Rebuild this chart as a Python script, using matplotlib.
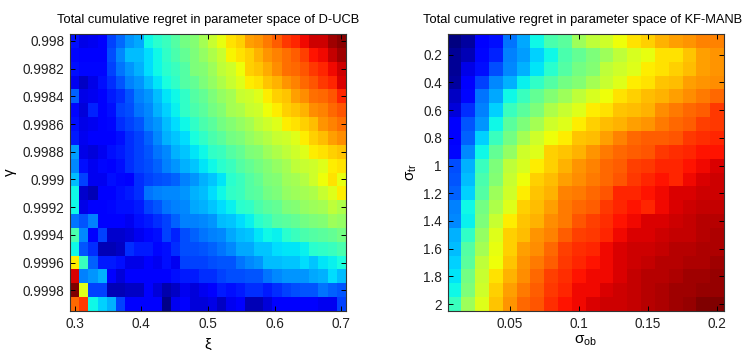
import numpy as np
import matplotlib
matplotlib.use("Agg")
import matplotlib.pyplot as plt

plt.rcParams['font.family'] = ['Liberation Sans', 'DejaVu Sans']
plt.rcParams['mathtext.fontset'] = 'custom'
plt.rcParams['mathtext.rm'] = 'Liberation Sans'
plt.rcParams['mathtext.it'] = 'Liberation Sans'

# D-UCB: rows = gamma, cols = xi (normalised regret)
xi = np.linspace(0.3, 0.7, 30)
gamma = np.linspace(0.998, 0.9999, 20)
regret_ducb = np.array([
    [0.14, 0.09, 0.10, 0.12, 0.19, 0.23, 0.27, 0.29, 0.37, 0.40, 0.42, 0.45, 0.49, 0.51, 0.55, 0.59, 0.63, 0.67, 0.69, 0.74, 0.75, 0.78, 0.81, 0.85, 0.87, 0.90, 0.93, 0.93, 0.97, 0.99],
    [0.13, 0.11, 0.11, 0.12, 0.20, 0.26, 0.31, 0.31, 0.34, 0.37, 0.41, 0.44, 0.47, 0.50, 0.53, 0.56, 0.59, 0.65, 0.67, 0.69, 0.72, 0.75, 0.77, 0.79, 0.81, 0.84, 0.89, 0.90, 0.94, 0.97],
    [0.14, 0.13, 0.13, 0.13, 0.19, 0.24, 0.27, 0.30, 0.34, 0.37, 0.40, 0.42, 0.45, 0.50, 0.51, 0.54, 0.58, 0.60, 0.64, 0.69, 0.70, 0.73, 0.76, 0.79, 0.80, 0.82, 0.85, 0.87, 0.90, 0.93],
    [0.10, 0.06, 0.09, 0.14, 0.17, 0.21, 0.25, 0.27, 0.31, 0.35, 0.38, 0.41, 0.45, 0.47, 0.50, 0.53, 0.56, 0.59, 0.62, 0.66, 0.67, 0.70, 0.72, 0.75, 0.77, 0.80, 0.82, 0.85, 0.87, 0.92],
    [0.22, 0.09, 0.10, 0.12, 0.15, 0.17, 0.21, 0.25, 0.27, 0.31, 0.35, 0.37, 0.41, 0.45, 0.47, 0.50, 0.53, 0.55, 0.59, 0.60, 0.62, 0.66, 0.69, 0.70, 0.74, 0.76, 0.79, 0.80, 0.82, 0.87],
    [0.13, 0.08, 0.16, 0.12, 0.14, 0.19, 0.20, 0.24, 0.26, 0.30, 0.33, 0.36, 0.41, 0.44, 0.46, 0.49, 0.51, 0.55, 0.56, 0.59, 0.60, 0.64, 0.66, 0.69, 0.70, 0.72, 0.76, 0.77, 0.80, 0.82],
    [0.14, 0.09, 0.10, 0.11, 0.13, 0.17, 0.19, 0.21, 0.25, 0.27, 0.31, 0.34, 0.37, 0.41, 0.44, 0.46, 0.49, 0.51, 0.53, 0.55, 0.58, 0.60, 0.62, 0.66, 0.67, 0.69, 0.71, 0.75, 0.77, 0.79],
    [0.15, 0.10, 0.12, 0.12, 0.12, 0.14, 0.17, 0.19, 0.22, 0.26, 0.30, 0.32, 0.34, 0.38, 0.41, 0.44, 0.46, 0.49, 0.50, 0.53, 0.55, 0.57, 0.59, 0.60, 0.62, 0.66, 0.69, 0.71, 0.74, 0.76],
    [0.28, 0.09, 0.08, 0.10, 0.14, 0.15, 0.17, 0.19, 0.21, 0.24, 0.26, 0.30, 0.32, 0.35, 0.37, 0.41, 0.42, 0.45, 0.47, 0.50, 0.51, 0.54, 0.56, 0.58, 0.60, 0.62, 0.66, 0.67, 0.69, 0.70],
    [0.26, 0.14, 0.10, 0.13, 0.12, 0.14, 0.17, 0.19, 0.20, 0.22, 0.25, 0.27, 0.30, 0.32, 0.35, 0.37, 0.40, 0.42, 0.45, 0.47, 0.49, 0.51, 0.53, 0.55, 0.58, 0.59, 0.60, 0.62, 0.66, 0.67],
    [0.31, 0.19, 0.10, 0.10, 0.14, 0.13, 0.11, 0.17, 0.19, 0.20, 0.21, 0.22, 0.25, 0.27, 0.30, 0.32, 0.35, 0.40, 0.42, 0.45, 0.47, 0.50, 0.51, 0.54, 0.55, 0.57, 0.60, 0.64, 0.67, 0.63],
    [0.37, 0.07, 0.05, 0.12, 0.12, 0.14, 0.15, 0.17, 0.24, 0.25, 0.26, 0.26, 0.27, 0.30, 0.31, 0.34, 0.37, 0.41, 0.42, 0.45, 0.46, 0.49, 0.50, 0.53, 0.54, 0.55, 0.56, 0.59, 0.62, 0.66],
    [0.37, 0.09, 0.12, 0.11, 0.13, 0.14, 0.14, 0.15, 0.19, 0.21, 0.24, 0.25, 0.26, 0.29, 0.30, 0.32, 0.34, 0.36, 0.40, 0.41, 0.44, 0.46, 0.47, 0.50, 0.51, 0.53, 0.54, 0.55, 0.58, 0.56],
    [0.24, 0.21, 0.25, 0.12, 0.12, 0.11, 0.10, 0.14, 0.15, 0.17, 0.19, 0.22, 0.25, 0.25, 0.26, 0.27, 0.31, 0.32, 0.34, 0.36, 0.40, 0.42, 0.45, 0.46, 0.47, 0.49, 0.50, 0.51, 0.54, 0.53],
    [0.44, 0.26, 0.12, 0.19, 0.07, 0.07, 0.08, 0.10, 0.13, 0.14, 0.19, 0.16, 0.20, 0.22, 0.24, 0.25, 0.26, 0.29, 0.31, 0.32, 0.35, 0.37, 0.36, 0.40, 0.42, 0.44, 0.45, 0.46, 0.47, 0.49],
    [0.37, 0.21, 0.17, 0.05, 0.05, 0.06, 0.17, 0.15, 0.15, 0.13, 0.14, 0.17, 0.20, 0.20, 0.21, 0.22, 0.24, 0.26, 0.29, 0.29, 0.32, 0.32, 0.34, 0.35, 0.35, 0.36, 0.40, 0.41, 0.42, 0.44],
    [0.66, 0.42, 0.22, 0.15, 0.15, 0.14, 0.09, 0.09, 0.12, 0.10, 0.14, 0.10, 0.19, 0.19, 0.19, 0.20, 0.21, 0.21, 0.24, 0.26, 0.27, 0.31, 0.31, 0.32, 0.32, 0.34, 0.32, 0.35, 0.36, 0.38],
    [0.92, 0.25, 0.27, 0.30, 0.12, 0.08, 0.12, 0.12, 0.12, 0.11, 0.11, 0.14, 0.15, 0.15, 0.17, 0.17, 0.19, 0.20, 0.20, 0.21, 0.21, 0.24, 0.26, 0.27, 0.27, 0.27, 0.29, 0.30, 0.34, 0.31],
    [1.00, 0.62, 0.19, 0.19, 0.05, 0.05, 0.06, 0.06, 0.12, 0.08, 0.04, 0.06, 0.10, 0.08, 0.10, 0.12, 0.15, 0.14, 0.15, 0.17, 0.17, 0.15, 0.17, 0.19, 0.20, 0.21, 0.21, 0.24, 0.22, 0.21],
    [0.80, 0.85, 0.37, 0.33, 0.30, 0.19, 0.12, 0.12, 0.11, 0.11, 0.01, 0.10, 0.11, 0.08, 0.08, 0.09, 0.06, 0.10, 0.11, 0.05, 0.05, 0.08, 0.12, 0.12, 0.12, 0.12, 0.12, 0.10, 0.10, 0.19],
])

# KF-MANB: rows = sigma_tr, cols = sigma_ob
sigma_ob = np.linspace(0.01, 0.2, 20)
sigma_tr = np.linspace(0.1, 2.0, 20)
regret_kf = np.array([
    [0.00, 0.03, 0.12, 0.14, 0.24, 0.29, 0.37, 0.44, 0.46, 0.54, 0.58, 0.60, 0.64, 0.67, 0.69, 0.72, 0.74, 0.75, 0.77, 0.77],
    [0.02, 0.05, 0.13, 0.16, 0.25, 0.28, 0.33, 0.37, 0.44, 0.47, 0.50, 0.54, 0.58, 0.61, 0.63, 0.67, 0.67, 0.70, 0.74, 0.75],
    [0.02, 0.09, 0.14, 0.20, 0.26, 0.30, 0.35, 0.40, 0.45, 0.49, 0.51, 0.58, 0.60, 0.62, 0.66, 0.67, 0.69, 0.71, 0.74, 0.75],
    [0.03, 0.12, 0.19, 0.26, 0.30, 0.36, 0.41, 0.45, 0.49, 0.51, 0.55, 0.59, 0.62, 0.66, 0.67, 0.70, 0.71, 0.74, 0.75, 0.76],
    [0.06, 0.13, 0.24, 0.29, 0.37, 0.42, 0.47, 0.51, 0.54, 0.58, 0.61, 0.64, 0.67, 0.69, 0.71, 0.72, 0.74, 0.76, 0.78, 0.80],
    [0.08, 0.17, 0.25, 0.33, 0.42, 0.46, 0.50, 0.56, 0.59, 0.62, 0.66, 0.67, 0.70, 0.71, 0.72, 0.76, 0.78, 0.80, 0.81, 0.85],
    [0.11, 0.21, 0.27, 0.37, 0.46, 0.50, 0.55, 0.60, 0.62, 0.66, 0.69, 0.71, 0.72, 0.74, 0.75, 0.78, 0.80, 0.81, 0.84, 0.85],
    [0.12, 0.22, 0.33, 0.42, 0.49, 0.55, 0.60, 0.64, 0.66, 0.70, 0.71, 0.74, 0.77, 0.80, 0.81, 0.81, 0.82, 0.85, 0.86, 0.87],
    [0.13, 0.26, 0.37, 0.47, 0.53, 0.60, 0.62, 0.69, 0.70, 0.72, 0.75, 0.78, 0.80, 0.81, 0.82, 0.85, 0.86, 0.87, 0.89, 0.89],
    [0.20, 0.30, 0.42, 0.50, 0.58, 0.61, 0.66, 0.69, 0.72, 0.75, 0.77, 0.80, 0.81, 0.84, 0.85, 0.87, 0.87, 0.89, 0.90, 0.92],
    [0.21, 0.31, 0.44, 0.51, 0.59, 0.64, 0.69, 0.71, 0.74, 0.76, 0.78, 0.80, 0.82, 0.85, 0.87, 0.89, 0.87, 0.90, 0.92, 0.93],
    [0.22, 0.33, 0.45, 0.54, 0.60, 0.66, 0.70, 0.72, 0.77, 0.78, 0.80, 0.82, 0.87, 0.87, 0.89, 0.90, 0.92, 0.92, 0.93, 0.93],
    [0.25, 0.37, 0.49, 0.56, 0.62, 0.69, 0.71, 0.74, 0.78, 0.80, 0.81, 0.85, 0.87, 0.89, 0.87, 0.90, 0.92, 0.93, 0.94, 0.94],
    [0.26, 0.36, 0.50, 0.59, 0.66, 0.70, 0.72, 0.76, 0.78, 0.82, 0.84, 0.86, 0.89, 0.90, 0.92, 0.92, 0.93, 0.94, 0.95, 0.95],
    [0.30, 0.41, 0.53, 0.62, 0.69, 0.71, 0.75, 0.77, 0.81, 0.84, 0.85, 0.87, 0.90, 0.92, 0.92, 0.93, 0.94, 0.94, 0.95, 0.96],
    [0.31, 0.45, 0.55, 0.63, 0.69, 0.74, 0.76, 0.80, 0.84, 0.86, 0.87, 0.90, 0.92, 0.93, 0.93, 0.94, 0.95, 0.95, 0.96, 0.96],
    [0.33, 0.46, 0.58, 0.64, 0.70, 0.75, 0.78, 0.81, 0.85, 0.87, 0.89, 0.90, 0.92, 0.93, 0.94, 0.95, 0.95, 0.96, 0.96, 0.97],
    [0.35, 0.49, 0.59, 0.67, 0.72, 0.76, 0.80, 0.84, 0.86, 0.89, 0.90, 0.90, 0.92, 0.94, 0.95, 0.95, 0.96, 0.97, 0.97, 0.98],
    [0.37, 0.50, 0.60, 0.69, 0.74, 0.78, 0.81, 0.85, 0.87, 0.90, 0.90, 0.92, 0.93, 0.94, 0.95, 0.96, 0.97, 0.97, 0.98, 0.98],
    [0.42, 0.54, 0.62, 0.70, 0.75, 0.80, 0.82, 0.86, 0.89, 0.90, 0.92, 0.93, 0.93, 0.94, 0.95, 0.96, 0.97, 0.98, 1.00, 1.00],
])

ducb_xticks = [0.3, 0.4, 0.5, 0.6, 0.7]
ducb_yticks = [0.998, 0.9982, 0.9984, 0.9986, 0.9988, 0.999, 0.9992, 0.9994, 0.9996, 0.9998]
ducb_yticklabels = ['0.998', '0.9982', '0.9984', '0.9986', '0.9988',
                    '0.999', '0.9992', '0.9994', '0.9996', '0.9998']
kf_xticks = [0.05, 0.1, 0.15, 0.2]
kf_xticklabels = ['0.05', '0.1', '0.15', '0.2']
kf_yticks = [0.2, 0.4, 0.6, 0.8, 1.0, 1.2, 1.4, 1.6, 1.8, 2.0]
kf_yticklabels = ['0.2', '0.4', '0.6', '0.8', '1', '1.2', '1.4', '1.6', '1.8', '2']

fig = plt.figure(figsize=(7.5, 3.5), dpi=100)
ax1 = fig.add_axes([70 / 750, 39 / 350, 276 / 750, 277 / 350])
ax2 = fig.add_axes([447.5 / 750, 39 / 350, 276.5 / 750, 277 / 350])


def style(ax):
    ax.tick_params(direction='in', length=3.5, width=0.7, labelsize=9.8, pad=4,
                   top=True, right=True, colors='black', labelcolor='#222222')
    for sp in ax.spines.values():
        sp.set_linewidth(0.8)
        sp.set_color('#333333')


ax1.pcolormesh(xi, gamma, regret_ducb, cmap='jet', vmin=0, vmax=1, shading='nearest')
ax1.set_ylim(gamma[-1] + 0.00005, gamma[0] - 0.00005)
ax1.set_xticks(ducb_xticks)
ax1.set_xticklabels([str(t) for t in ducb_xticks])
ax1.set_yticks(ducb_yticks)
ax1.set_yticklabels(ducb_yticklabels)
ax1.set_title('Total cumulative regret in parameter space of D-UCB', fontsize=9.3, pad=8)
ax1.set_xlabel('ξ', fontsize=11, labelpad=5)
ax1.set_ylabel('γ', fontsize=11, labelpad=4)
style(ax1)

ax2.pcolormesh(sigma_ob, sigma_tr, regret_kf, cmap='jet', vmin=0, vmax=1, shading='nearest')
ax2.set_ylim(sigma_tr[-1] + 0.05, sigma_tr[0] - 0.05)
ax2.set_xticks(kf_xticks)
ax2.set_xticklabels(kf_xticklabels)
ax2.set_yticks(kf_yticks)
ax2.set_yticklabels(kf_yticklabels)
ax2.set_title('Total cumulative regret in parameter space of KF-MANB', fontsize=9.3, pad=8, x=0.49)
ax2.set_xlabel(r'$\sigma_{ob}$', fontsize=11, labelpad=2)
ax2.set_ylabel(r'$\sigma_{tr}$', fontsize=11, labelpad=3)
style(ax2)

fig.savefig('out.png', dpi=100)
